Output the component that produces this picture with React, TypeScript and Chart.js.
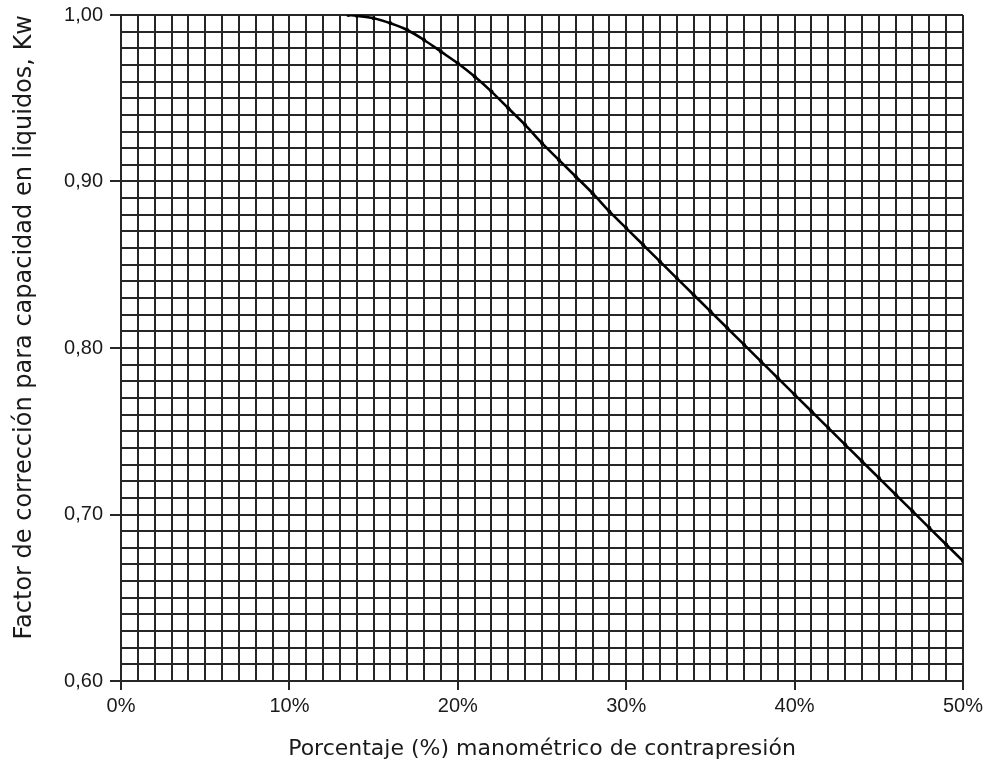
import React, { useEffect, useRef } from "react";
import { Chart, registerables } from "chart.js";

Chart.register(...registerables);

// Back-pressure (gauge %) and liquid capacity correction factor Kw
const backPressurePct = [13.5, 14, 15, 16, 17, 18, 19, 20, 21, 22, 23, 24, 25, 26, 27, 28, 29, 30, 31, 32, 33, 34, 35, 36, 37, 38, 39, 40, 41, 42, 43, 44, 45, 46, 47, 48, 49, 50];
const kwFactor = [1.0, 0.9995, 0.998, 0.995, 0.991, 0.985, 0.978, 0.971, 0.963, 0.954, 0.944, 0.934, 0.923, 0.913, 0.903, 0.893, 0.882, 0.872, 0.862, 0.852, 0.842, 0.832, 0.822, 0.812, 0.802, 0.792, 0.782, 0.772, 0.762, 0.752, 0.742, 0.732, 0.722, 0.712, 0.702, 0.692, 0.682, 0.672];

const xTitle = "Porcentaje (%) manométrico de contrapresión";
const yTitle = "Factor de corrección para capacidad en liquidos, Kw";

const X_MIN = 0, X_MAX = 50, X_STEP = 1, X_LABEL_EVERY = 10;
const Y_MIN = 0.6, Y_MAX = 1.0, Y_STEP = 0.01, Y_LABEL_EVERY = 10; // in hundredths

const FONT = "'Liberation Sans', Arial, Helvetica, sans-serif";
const TITLE_FONT = "'DejaVu Sans', Verdana, sans-serif";
const GRID = "#262626";
const TEXT = "#1a1a1a";

export default function App() {
  const ref = useRef<HTMLCanvasElement | null>(null);

  useEffect(() => {
    if (!ref.current) return;
    const isMajorX = (v: number) => Math.round(v) % X_LABEL_EVERY === 0;
    const isMajorY = (v: number) => Math.round(v * 100) % Y_LABEL_EVERY === 0;

    const chart = new Chart(ref.current, {
      type: "scatter",
      data: {
        datasets: [
          {
            data: backPressurePct.map((x, i) => ({ x, y: kwFactor[i] })),
            showLine: true,
            borderColor: "#000",
            borderWidth: 2.6,
            pointRadius: 2,
            pointBackgroundColor: "#000",
            pointBorderColor: "#000",
            pointBorderWidth: 0,
            tension: 0.3,
            cubicInterpolationMode: "monotone",
          },
        ],
      },
      options: {
        animation: false,
        responsive: true,
        maintainAspectRatio: false,
        layout: { padding: { top: 15, right: 26, left: 0, bottom: 0 } },
        plugins: { legend: { display: false }, tooltip: { enabled: false } },
        scales: {
          x: {
            type: "linear",
            min: X_MIN,
            max: X_MAX,
            afterFit: (s: any) => { s.height = 87; s.paddingLeft = 0; s.paddingRight = 0; },
            border: { display: true, color: GRID, width: 2 },
            grid: {
              color: GRID,
              lineWidth: 2,
              tickLength: 9,
              tickColor: (c: any) => (c.tick && isMajorX(c.tick.value) ? GRID : "rgba(0,0,0,0)"),
              tickWidth: 2,
            },
            ticks: {
              stepSize: X_STEP,
              autoSkip: false,
              maxRotation: 0,
              padding: 4,
              color: TEXT,
              font: { family: FONT, size: 20 },
              callback: (v: any) => (isMajorX(Number(v)) ? `${Math.round(Number(v))}%` : ""),
            },
            title: {
              display: true,
              text: xTitle,
              color: TEXT,
              font: { family: TITLE_FONT, size: 22 },
              padding: { top: 0, bottom: 6 },
            },
          },
          y: {
            type: "linear",
            min: Y_MIN,
            max: Y_MAX,
            afterFit: (s: any) => { s.width = 121; s.paddingTop = 0; s.paddingBottom = 0; },
            border: { display: true, color: GRID, width: 2 },
            grid: {
              color: GRID,
              lineWidth: 2,
              tickLength: 11,
              tickColor: (c: any) => (c.tick && isMajorY(c.tick.value) ? GRID : "rgba(0,0,0,0)"),
              tickWidth: 2,
            },
            ticks: {
              stepSize: Y_STEP,
              autoSkip: false,
              padding: 7,
              color: TEXT,
              font: { family: FONT, size: 20 },
              callback: (v: any) => (isMajorY(Number(v)) ? Number(v).toFixed(2).replace(".", ",") : ""),
            },
            title: {
              display: true,
              text: yTitle,
              align: "end",
              color: TEXT,
              font: { family: TITLE_FONT, size: 24 },
              padding: { top: 10, bottom: 0 },
            },
          },
        },
      },
    } as any);
    return () => chart.destroy();
  }, []);

  return (
    <div style={{ position: "fixed", left: 0, top: 0, width: 989, height: 768, background: "#fff" }}>
      <canvas ref={ref} />
    </div>
  );
}
